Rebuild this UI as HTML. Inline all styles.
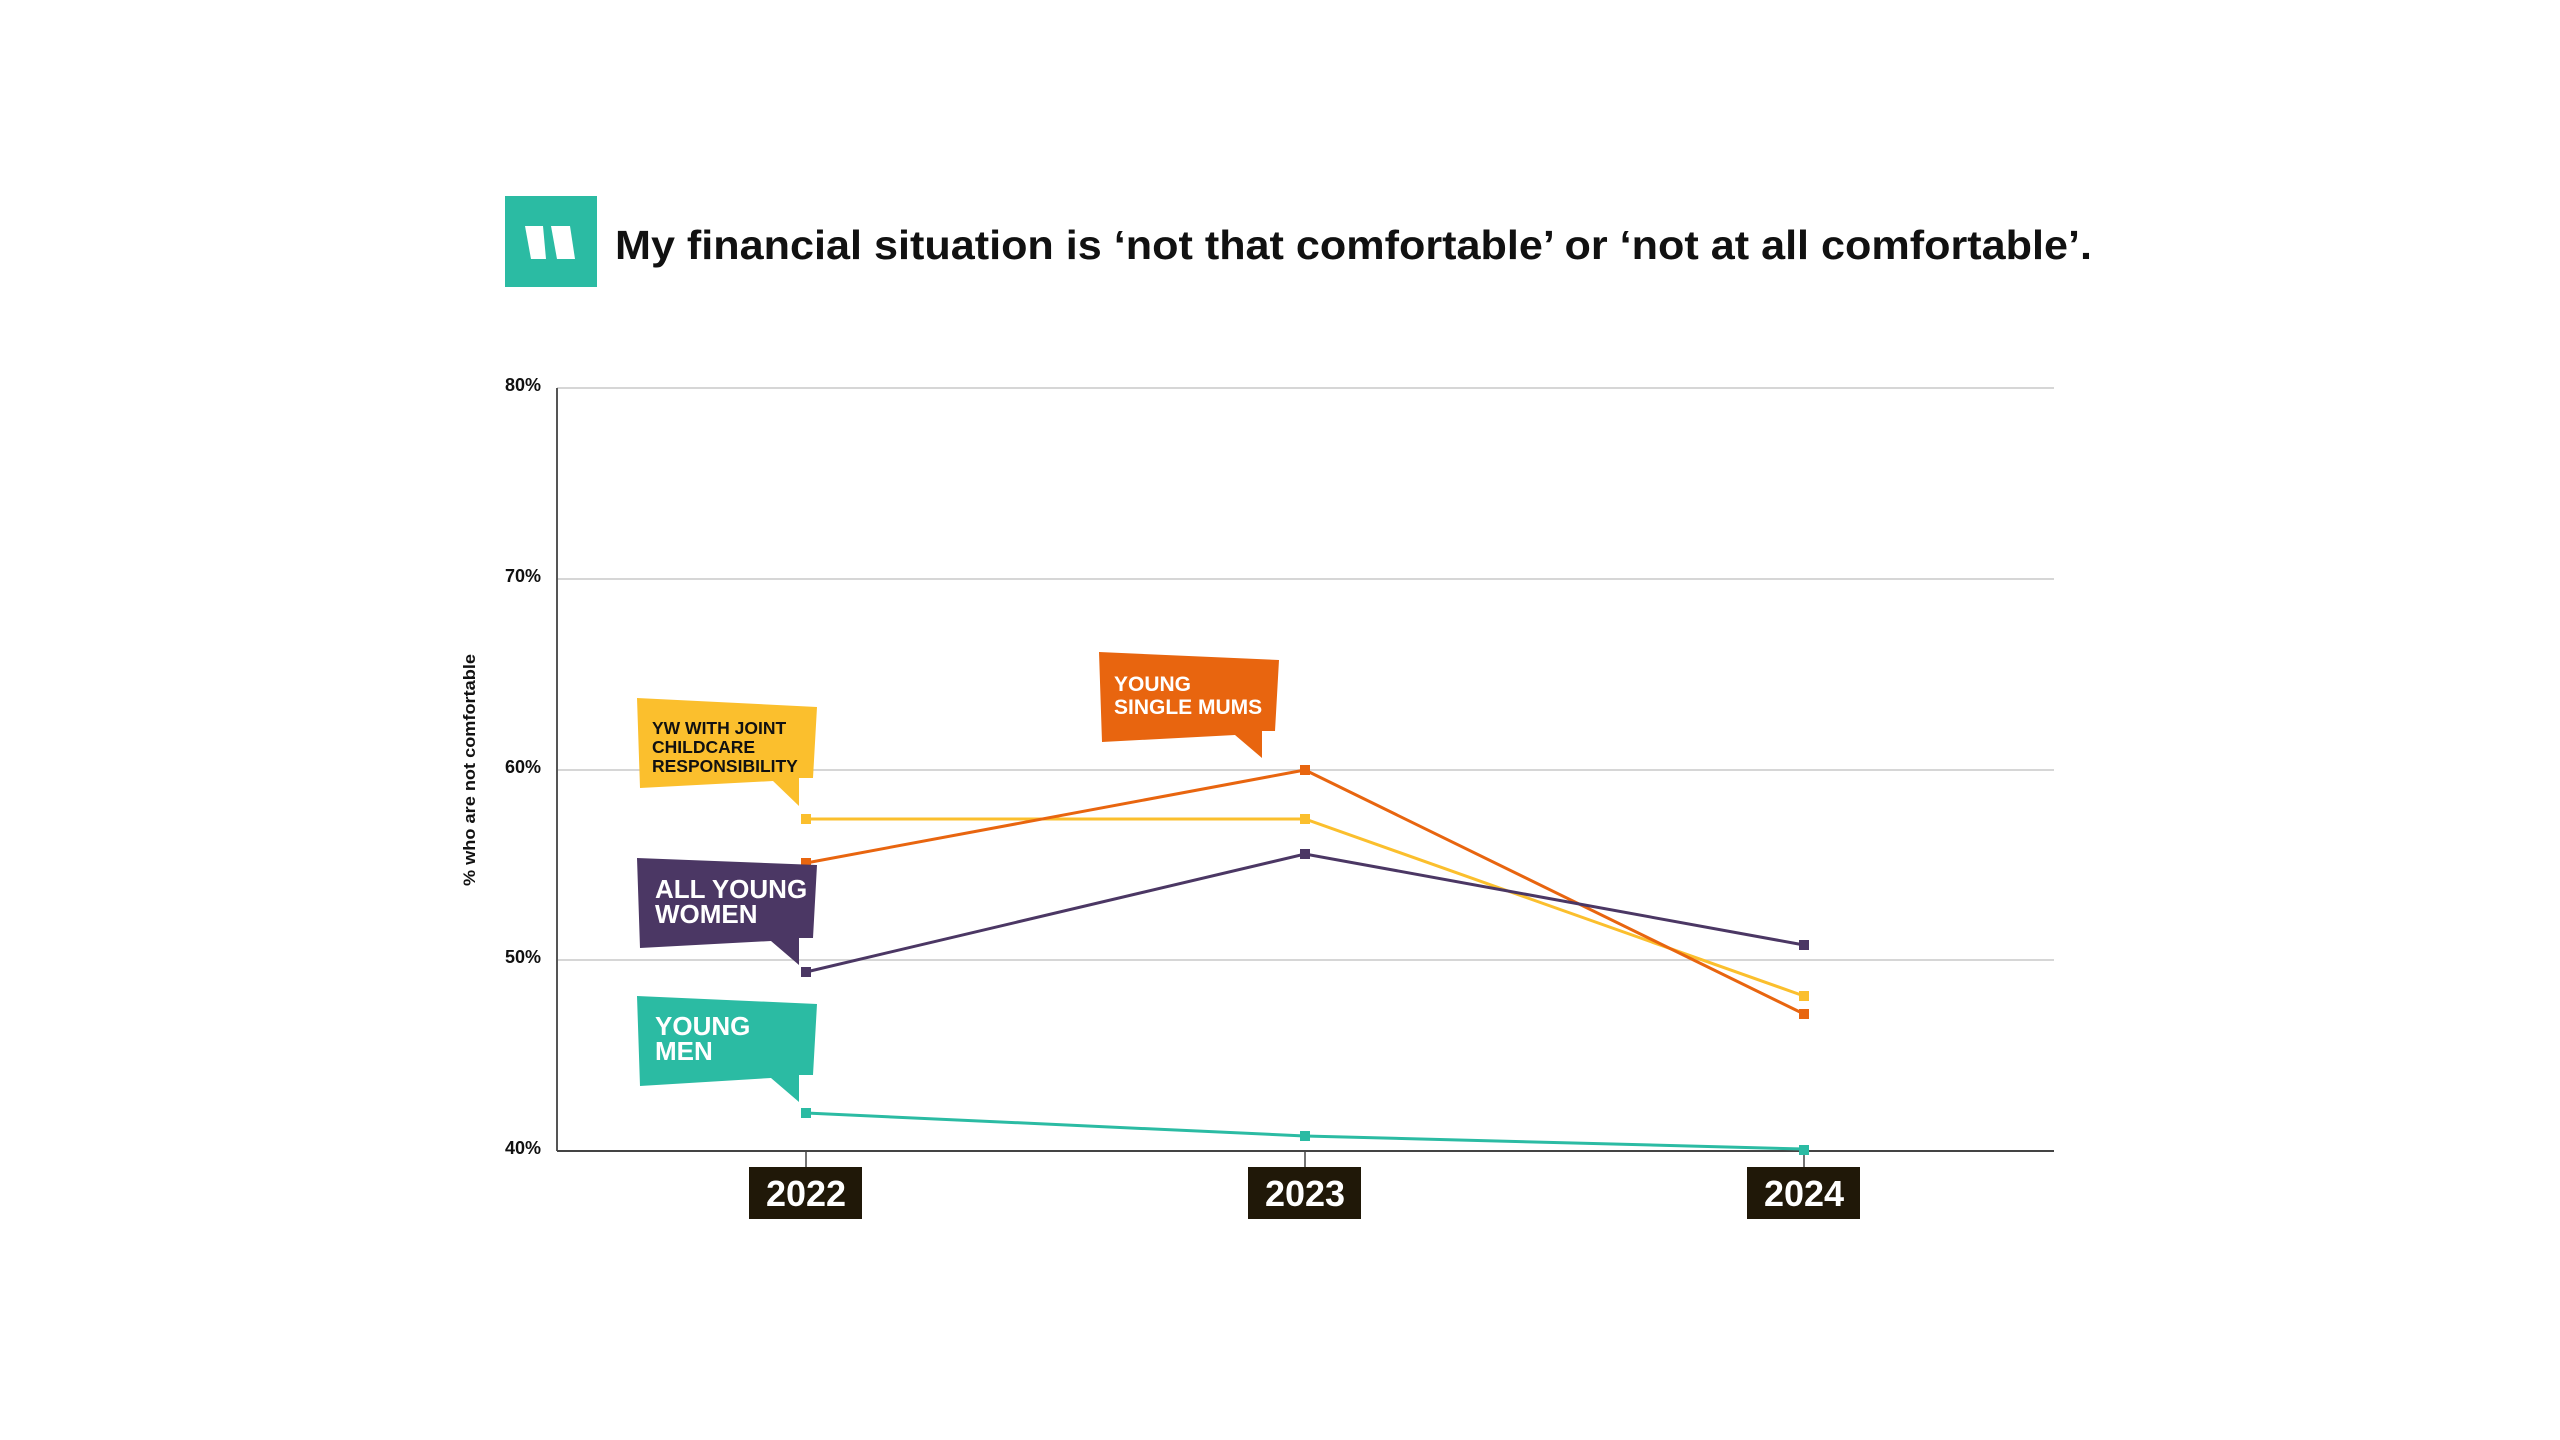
<!DOCTYPE html>
<html><head><meta charset="utf-8"><style>
html,body{margin:0;padding:0;background:#fff;}
svg{display:block;}
text{font-family:"Liberation Sans","DejaVu Sans",sans-serif;font-weight:bold;}
</style></head><body>
<svg width="2560" height="1440" viewBox="0 0 2560 1440" xmlns="http://www.w3.org/2000/svg">
<rect width="2560" height="1440" fill="#fff"/>
<!-- logo -->
<rect x="505" y="196" width="92" height="91" fill="#2bbba3"/>
<polygon points="525,226 543,226 546,259 531,259" fill="#fff"/>
<polygon points="551,226 570,226 575,259 557,259" fill="#fff"/>
<text x="615" y="259" font-size="41" fill="#111" textLength="1477" lengthAdjust="spacingAndGlyphs">My financial situation is ‘not that comfortable’ or ‘not at all comfortable’.</text>

<!-- grid -->
<g stroke="#c8c8c8" stroke-width="1.5">
<line x1="557" y1="388" x2="2054" y2="388"/>
<line x1="557" y1="579" x2="2054" y2="579"/>
<line x1="557" y1="770" x2="2054" y2="770"/>
<line x1="557" y1="960" x2="2054" y2="960"/>
</g>
<line x1="557" y1="388" x2="557" y2="1151" stroke="#555" stroke-width="2"/>
<line x1="557" y1="1151" x2="2054" y2="1151" stroke="#444" stroke-width="2"/>
<g stroke="#444" stroke-width="1.5">
<line x1="806" y1="1151" x2="806" y2="1167"/>
<line x1="1305" y1="1151" x2="1305" y2="1167"/>
<line x1="1804" y1="1151" x2="1804" y2="1167"/>
</g>
<g font-size="18" fill="#111">
<text x="505" y="391">80%</text>
<text x="505" y="582">70%</text>
<text x="505" y="773">60%</text>
<text x="505" y="963">50%</text>
<text x="505" y="1154">40%</text>
</g>
<text transform="translate(475,770) rotate(-90)" text-anchor="middle" font-size="17" fill="#111" textLength="232" lengthAdjust="spacingAndGlyphs">% who are not comfortable</text>

<!-- years -->
<g>
<rect x="749" y="1167" width="113" height="52" fill="#201808"/>
<rect x="1248" y="1167" width="113" height="52" fill="#201808"/>
<rect x="1747" y="1167" width="113" height="52" fill="#201808"/>
<g font-size="36" fill="#fff" text-anchor="middle">
<text x="806" y="1206">2022</text>
<text x="1305" y="1206">2023</text>
<text x="1804" y="1206">2024</text>
</g>
</g>

<!-- series -->
<g fill="none" stroke-width="3">
<polyline points="806,819 1305,819 1804,996" stroke="#fbbf2d"/>
<polyline points="806,863 1305,770 1804,1014" stroke="#e8650f"/>
<polyline points="806,972 1305,854 1804,945" stroke="#4b3764"/>
<polyline points="806,1113 1305,1136 1804,1149" stroke="#2bbba3"/>
</g>
<g fill="#fbbf2d"><rect x="801" y="814" width="10" height="10"/><rect x="1300" y="814" width="10" height="10"/><rect x="1799" y="991" width="10" height="10"/></g>
<g fill="#e8650f"><rect x="801" y="858" width="10" height="10"/><rect x="1300" y="765" width="10" height="10"/><rect x="1799" y="1009" width="10" height="10"/></g>
<g fill="#4b3764"><rect x="801" y="967" width="10" height="10"/><rect x="1300" y="849" width="10" height="10"/><rect x="1799" y="940" width="10" height="10"/></g>
<g fill="#2bbba3"><rect x="801" y="1108" width="10" height="10"/><rect x="1300" y="1131" width="10" height="10"/><rect x="1799" y="1145" width="10" height="10"/></g>

<!-- labels -->
<polygon points="637,698 817,707 813,778 799,778 799,806 773,781 640,788" fill="#fbbf2d"/>
<g font-size="17.5" fill="#111">
<text x="652" y="734">YW WITH JOINT</text>
<text x="652" y="753">CHILDCARE</text>
<text x="652" y="772">RESPONSIBILITY</text>
</g>
<polygon points="1099,652 1279,660 1275,731 1262,731 1262,758 1235,735 1102,742" fill="#e8650f"/>
<g font-size="21" fill="#fff">
<text x="1114" y="691">YOUNG</text>
<text x="1114" y="714">SINGLE MUMS</text>
</g>
<polygon points="637,858 817,865 813,938 799,938 799,965 771,941 640,948" fill="#4b3764"/>
<g font-size="26" fill="#fff">
<text x="655" y="898">ALL YOUNG</text>
<text x="655" y="923">WOMEN</text>
</g>
<polygon points="637,996 817,1004 813,1075 799,1075 799,1102 771,1078 640,1086" fill="#2bbba3"/>
<g font-size="26" fill="#fff">
<text x="655" y="1035">YOUNG</text>
<text x="655" y="1060">MEN</text>
</g>
</svg>
</body></html>
